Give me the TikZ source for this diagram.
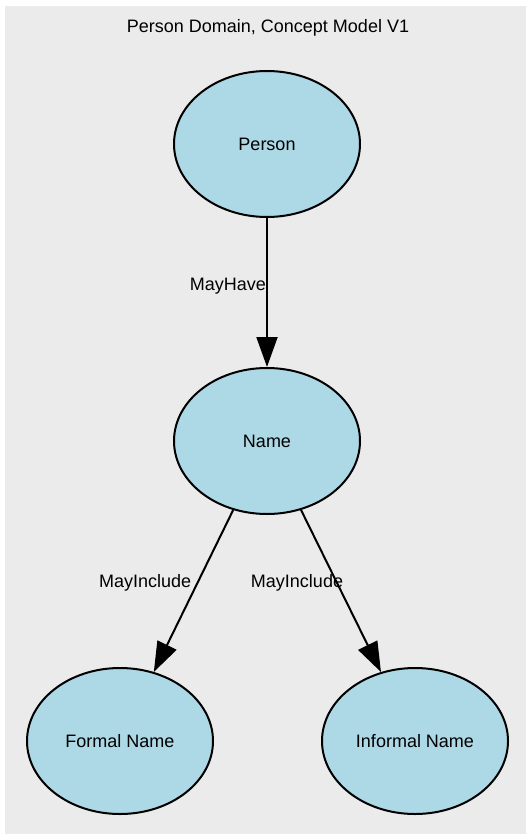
\documentclass[tikz,border=0pt]{standalone}
\usepackage{fontspec}
\setmainfont{Liberation Sans}
\usetikzlibrary{arrows.meta,shapes.geometric}

\definecolor{panelgray}{HTML}{EBEBEB}
\definecolor{nodeblue}{HTML}{ADD8E6}

\begin{document}
\begin{tikzpicture}[x=0.75pt, y=-0.75pt,
		font=\fontsize{13.5}{16}\selectfont,
		concept/.style={draw, ellipse, fill=nodeblue, line width=1.5pt, inner sep=0pt, minimum width=139.5pt, minimum height=109.5pt},
		rel/.style={line width=1.5pt, -{Triangle[length=22.5pt, width=15.75pt]}},
		lbl/.style={inner sep=0pt, font=\fontsize{13.5}{16}\selectfont}]
			\useasboundingbox (0,0) rectangle (526,834);
			\fill[panelgray] (5,6) rectangle (526,834);
			\node[inner sep=0pt] (title) at (268,28) {Person Domain, Concept Model V1};
			
			\node[concept] (person)   at (267, 144) {Person};
			\node[concept] (name)     at (267, 441) {Name};
			\node[concept] (formal)   at (120, 741) {Formal Name};
			\node[concept] (informal) at (415, 741) {Informal Name};
			
			\draw[rel] (person) -- node[lbl, pos=0.455, anchor=east] {MayHave} (name);  % person has a name
			\draw[rel] (name) -- node[lbl, pos=0.45, anchor=east, xshift=-4pt] {MayInclude} (formal);
			\draw[rel] (name) -- node[lbl, pos=0.45, xshift=-30pt] {MayInclude} (informal);
		\end{tikzpicture}
\end{document}
